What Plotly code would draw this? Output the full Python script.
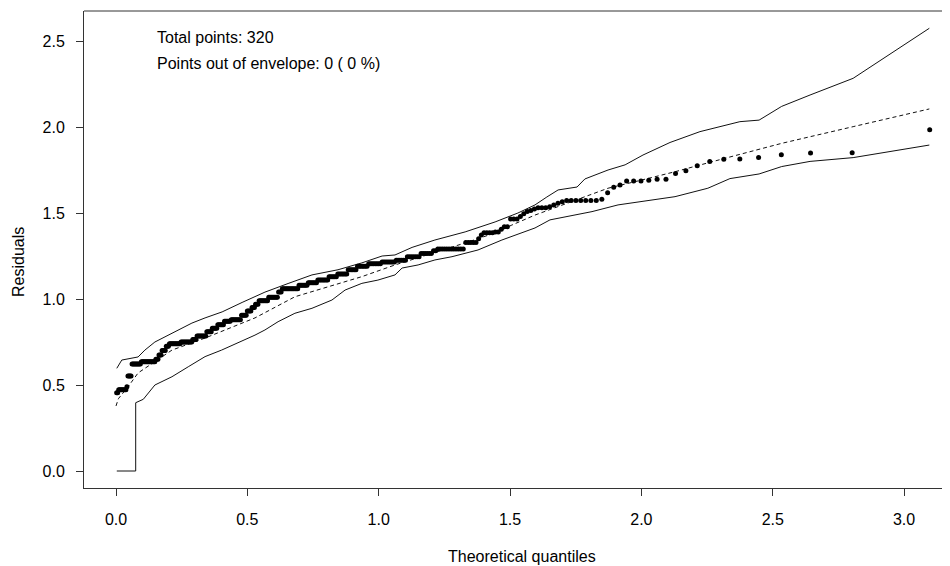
import plotly.graph_objects as go
from statistics import NormalDist

# ---- sorted absolute residuals as (value, count) runs ----
resid_values = [0.455, 0.472, 0.49, 0.552, 0.622, 0.635, 0.65, 0.675, 0.70, 0.725,
                0.74, 0.75, 0.765, 0.785, 0.81, 0.83, 0.85, 0.87, 0.88, 0.905,
                0.93, 0.95, 0.97, 0.99, 1.01, 1.04, 1.06, 1.08, 1.095, 1.11,
                1.13, 1.145, 1.17, 1.19, 1.205, 1.215, 1.225, 1.245, 1.265, 1.28,
                1.29, 1.328, 1.35, 1.372, 1.385, 1.39, 1.405, 1.42, 1.465, 1.48,
                1.495, 1.508, 1.515, 1.523, 1.531, 1.537, 1.547, 1.556, 1.566, 1.572,
                1.58, 1.618, 1.649, 1.663, 1.686, 1.69, 1.696, 1.73, 1.746, 1.775,
                1.80, 1.812, 1.814, 1.822, 1.839, 1.849, 1.85, 1.984]
resid_counts = [2, 8, 1, 4, 9, 14, 3, 3, 4, 3,
                11, 11, 4, 9, 5, 5, 6, 6, 9, 5,
                4, 3, 3, 8, 8, 3, 13, 7, 7, 8,
                6, 7, 6, 7, 8, 8, 6, 7, 6, 2,
                12, 5, 1, 1, 4, 2, 1, 2, 3, 1,
                1, 1, 1, 1, 3, 1, 1, 1, 1, 7,
                1, 1, 1, 1, 3, 1, 2, 1, 1, 1,
                1, 1, 1, 1, 1, 1, 1, 1]

# ---- simulated envelope, read from the picture as knots ----
upper_x = [0.003, 0.022, 0.084, 0.110, 0.148, 0.213, 0.289, 0.339, 0.404, 0.480,
           0.567, 0.655, 0.746, 0.845, 0.936, 1.013, 1.062, 1.127, 1.214, 1.329,
           1.443, 1.530, 1.595, 1.640, 1.683, 1.755, 1.785, 1.873, 1.938, 2.006,
           2.109, 2.223, 2.375, 2.448, 2.534, 2.642, 2.806, 3.096]
upper_y = [0.597, 0.645, 0.663, 0.703, 0.750, 0.800, 0.860, 0.890, 0.925, 0.980,
           1.040, 1.090, 1.140, 1.170, 1.210, 1.250, 1.256, 1.300, 1.343, 1.390,
           1.448, 1.500, 1.547, 1.593, 1.634, 1.651, 1.698, 1.750, 1.780, 1.837,
           1.910, 1.973, 2.031, 2.040, 2.120, 2.186, 2.283, 2.574]

lower_x = [0.003, 0.075, 0.075, 0.104, 0.148, 0.213, 0.275, 0.339, 0.402, 0.464,
           0.529, 0.567, 0.617, 0.681, 0.746, 0.822, 0.872, 0.936, 0.997, 1.062,
           1.089, 1.150, 1.214, 1.279, 1.378, 1.469, 1.595, 1.652, 1.747, 1.812,
           1.911, 2.002, 2.128, 2.253, 2.337, 2.448, 2.534, 2.642, 2.806, 3.096]
lower_y = [0.0, 0.0, 0.397, 0.417, 0.500, 0.548, 0.606, 0.665, 0.703, 0.744,
           0.790, 0.820, 0.868, 0.917, 0.946, 0.994, 1.052, 1.091, 1.110, 1.140,
           1.180, 1.198, 1.227, 1.246, 1.285, 1.343, 1.413, 1.460, 1.488, 1.508,
           1.547, 1.566, 1.595, 1.644, 1.700, 1.727, 1.770, 1.800, 1.822, 1.895]

median_x = [0.0, 0.009, 0.046, 0.084, 0.148, 0.213, 0.339, 0.464, 0.529, 0.681,
            0.807, 0.936, 1.062, 1.195, 1.329, 1.443, 1.507, 1.595, 1.683, 1.873,
            2.002, 2.128, 2.318, 2.534, 2.806, 3.096]
median_y = [0.378, 0.420, 0.490, 0.570, 0.636, 0.703, 0.773, 0.849, 0.890, 1.013,
            1.072, 1.130, 1.198, 1.260, 1.326, 1.384, 1.430, 1.488, 1.537, 1.644,
            1.692, 1.740, 1.818, 1.905, 2.002, 2.105]

x_ticks = [0.0, 0.5, 1.0, 1.5, 2.0, 2.5, 3.0]
y_ticks = [0.0, 0.5, 1.0, 1.5, 2.0, 2.5]
info_lines = ["Total points: 320", "Points out of envelope: 0 ( 0 %)"]

residuals = [v for v, c in zip(resid_values, resid_counts) for _ in range(c)]
n = len(residuals)
nd = NormalDist()
# half-normal plotting positions (theoretical quantiles)
theo = [nd.inv_cdf((i + n - 0.125) / (2 * n + 0.5)) for i in range(1, n + 1)]

FONT = "Liberation Sans, Arial, sans-serif"
fig = go.Figure()
fig.add_trace(go.Scatter(x=upper_x, y=upper_y, mode="lines",
                         line=dict(color="#111", width=1), hoverinfo="skip"))
fig.add_trace(go.Scatter(x=lower_x, y=lower_y, mode="lines",
                         line=dict(color="#111", width=1), hoverinfo="skip"))
fig.add_trace(go.Scatter(x=median_x, y=median_y, mode="lines",
                         line=dict(color="#111", width=1, dash="4px,3px"), hoverinfo="skip"))
fig.add_trace(go.Scatter(x=theo, y=residuals, mode="markers",
                         marker=dict(color="black", size=5, line=dict(width=0))))

# page body adds an 8px offset; figure pixel = screen pixel - 8
OFF = 8
W, H = 942, 558
L, T = 84 - OFF, 11 - OFF
BOTTOM = 488 - OFF
B = H - BOTTOM
x_px0, x_unit = 116.0 - OFF, 262.7
y_px0, y_unit = 471.0 - OFF, 172.0
xr = [(L - x_px0) / x_unit, (W - x_px0) / x_unit]
yr = [(y_px0 - BOTTOM) / y_unit, (y_px0 - T) / y_unit]

axis_common = dict(showgrid=False, zeroline=False, showline=True, linecolor="#333",
                   linewidth=1, ticks="outside", ticklen=7, tickcolor="#333",
                   automargin=False)
fig.update_layout(
    width=W, height=H, showlegend=False,
    margin=dict(l=L, r=0, t=T, b=B, autoexpand=False),
    plot_bgcolor="white", paper_bgcolor="white",
    font=dict(family=FONT, size=16, color="black"),
    xaxis=dict(range=xr, tickvals=x_ticks, ticktext=[f"{v:.1f}" for v in x_ticks],
               ticklabelstandoff=10, **axis_common),
    yaxis=dict(range=yr, tickvals=y_ticks, ticktext=[f"{v:.1f}" for v in y_ticks],
               ticklabelstandoff=8, **axis_common),
)
fig.add_shape(type="line", xref="paper", yref="paper", x0=0, x1=1, y0=1, y1=1,
              line=dict(color="#333", width=1))
for k, txt in enumerate(info_lines):
    fig.add_annotation(x=(155 - OFF - x_px0) / x_unit,
                       y=(y_px0 - (37 - OFF + 26 * k)) / y_unit,
                       xref="x", yref="y", text=txt, showarrow=False,
                       xanchor="left", yanchor="middle", font=dict(size=16))
fig.add_annotation(x=(522 - OFF - x_px0) / x_unit, y=0, xref="x", yref="paper",
                   text="Theoretical quantiles", showarrow=False,
                   xanchor="center", yanchor="middle", yshift=-(556 - 488),
                   font=dict(size=16))
fig.add_annotation(x=0, y=(y_px0 - (262 - OFF)) / y_unit, xref="paper", yref="y",
                   text="Residuals", showarrow=False, textangle=-90,
                   xanchor="center", yanchor="middle", xshift=18 - 84,
                   font=dict(size=16))

fig.write_html("out.html")
